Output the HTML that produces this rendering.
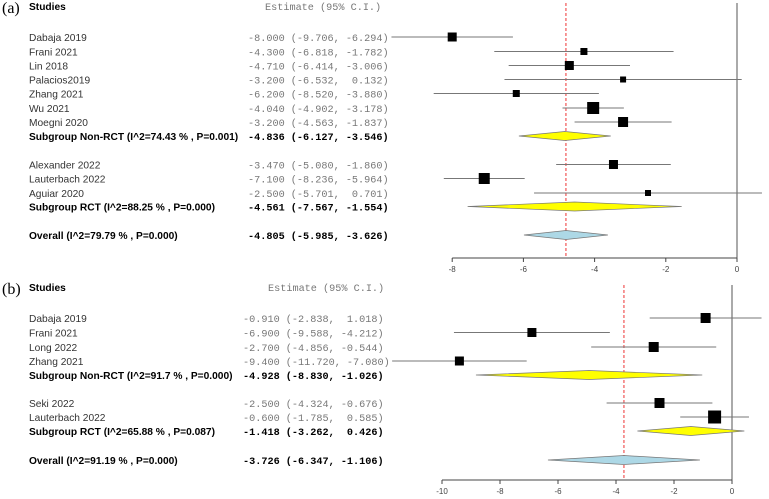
<!DOCTYPE html>
<html><head><meta charset="utf-8"><style>
body{margin:0;background:#fff;}
svg{display:block;}
.nm{font:10.2px "Liberation Sans",sans-serif;fill:#333;}
.b{font-weight:bold;fill:#000;}
.es{font:10.2px "Liberation Mono",monospace;fill:#777;white-space:pre;}
.esb{font:bold 10.2px "Liberation Mono",monospace;fill:#000;white-space:pre;}
.tk{font:8px "Liberation Sans",sans-serif;fill:#444;}
.pl{font:16px "Liberation Serif",serif;fill:#000;}
</style></head><body>
<svg id="c" width="769" height="499"></svg>
<script>
// Panel (a)
const aNames=["Dabaja 2019","Frani 2021","Lin 2018","Palacios2019","Zhang 2021","Wu 2021","Moegni 2020","Alexander 2022","Lauterbach 2022","Aguiar 2020"];
const aEst=[-8.0,-4.3,-4.71,-3.2,-6.2,-4.04,-3.2,-3.47,-7.1,-2.5];
const aLo=[-9.706,-6.818,-6.414,-6.532,-8.52,-4.902,-4.563,-5.08,-8.236,-5.701];
const aHi=[-6.294,-1.782,-3.006,0.132,-3.88,-3.178,-1.837,-1.86,-5.964,0.701];
const aWeight=[9,7,9,6,7,12,10,9,11,6];
const aSumNames=["Subgroup Non-RCT (I^2=74.43 % , P=0.001)","Subgroup RCT (I^2=88.25 % , P=0.000)","Overall (I^2=79.79 % , P=0.000)"];
const aSumEst=[-4.836,-4.561,-4.805];
const aSumLo=[-6.127,-7.567,-5.985];
const aSumHi=[-3.546,-1.554,-3.626];
const aTicks=[-8,-6,-4,-2,0];
// Panel (b)
const bNames=["Dabaja 2019","Frani 2021","Long 2022","Zhang 2021","Seki 2022","Lauterbach 2022"];
const bEst=[-0.91,-6.9,-2.7,-9.4,-2.5,-0.6];
const bLo=[-2.838,-9.588,-4.856,-11.72,-4.324,-1.785];
const bHi=[1.018,-4.212,-0.544,-7.08,-0.676,0.585];
const bWeight=[10,9,10,9,10,13];
const bSumNames=["Subgroup Non-RCT (I^2=91.7 % , P=0.000)","Subgroup RCT (I^2=65.88 % , P=0.087)","Overall (I^2=91.19 % , P=0.000)"];
const bSumEst=[-4.928,-1.418,-3.726];
const bSumLo=[-8.83,-3.262,-6.347];
const bSumHi=[-1.026,0.426,-1.106];
const bTicks=[-10,-8,-6,-4,-2,0];

const svg=document.getElementById('c');
const NS='http://www.w3.org/2000/svg';
function mk(tag,at,txt){const e=document.createElementNS(NS,tag);for(const k in at)e.setAttribute(k,at[k]);if(txt!==undefined)e.textContent=txt;svg.appendChild(e);return e;}
function f(v){const s=v.toFixed(3);return v>=0?' '+s:s;}

function panel(p){
  const X=v=>p.zero+v*p.scale;
  let e;
  e=mk('text',{x:2,y:p.top+8,class:'pl'},p.label);
  
  
  e=mk('text',{x:29,y:p.top+5,class:'nm b'},'Studies');
  
  
  e=mk('text',{x:p.hx,y:p.top+5,class:'es'},'Estimate (95% C.I.)');
  
  
  e=mk('line',{x1:X(0),x2:X(0),y1:p.zTop,y2:p.axisY,stroke:'#555','stroke-width':1});
  
  
  e=mk('line',{x1:X(p.ticks[0]),x2:X(p.ticks[p.ticks.length-1]),y1:p.axisY,y2:p.axisY,stroke:'#444','stroke-width':1});
  
  
  p.ticks.forEach(t=>{
    let l=mk('line',{x1:X(t),x2:X(t),y1:p.axisY,y2:p.axisY+4,stroke:'#444'});
    
    
    let tx=mk('text',{x:X(t),y:p.axisY+14,class:'tk','text-anchor':'middle'},String(t));
    
    
  });
  const ov=p.sEst[2];
  e=mk('line',{x1:X(ov),x2:X(ov),y1:p.zTop,y2:p.axisY,stroke:'#e33','stroke-width':1,'stroke-dasharray':'3,2'});
  
  
  p.names.forEach((n,i)=>{
    const y=p.rowY[i];
    let t=mk('text',{x:29,y:y+4,class:'nm'},n);
    
    
    t=mk('text',{x:p.ex,y:y+4,class:'es'},f(p.est[i])+' ('+f(p.lo[i])+', '+f(p.hi[i])+')');
    
    
    let l=mk('line',{x1:X(p.lo[i]),x2:X(p.hi[i]),y1:y,y2:y,stroke:'#777','stroke-width':1});
    
    
    const s=p.w[i];
    let r=mk('rect',{x:X(p.est[i])-s/2,y:y-s/2,width:s,height:s,fill:'#000'});
    
    
  });
  p.sNames.forEach((n,i)=>{
    const y=p.sY[i];
    let t=mk('text',{x:29,y:y+4,class:'nm b'},n);
    
    
    t=mk('text',{x:p.ex,y:y+4,class:'esb'},f(p.sEst[i])+' ('+f(p.sLo[i])+', '+f(p.sHi[i])+')');
    
    
    const h=4.5;
    let d=mk('polygon',{points:`${X(p.sLo[i])},${y} ${X(p.sEst[i])},${y-h} ${X(p.sHi[i])},${y} ${X(p.sEst[i])},${y+h}`,fill:i==2?'#add8e6':'#ffff00',stroke:'#777','stroke-width':0.7});
    
    
  });
}
panel({label:'(a)',top:5,hx:265,ex:248,zero:737,scale:35.6,axisY:258,zTop:3,ticks:aTicks,
 names:aNames,est:aEst,lo:aLo,hi:aHi,w:aWeight,rowY:[37,51.5,65.5,79.5,93.5,108,122,164.5,178.5,193],
 sNames:aSumNames,sEst:aSumEst,sLo:aSumLo,sHi:aSumHi,sY:[136,206.5,235]});
panel({label:'(b)',top:286,hx:268,ex:243,zero:732,scale:29,axisY:480,zTop:285,ticks:bTicks,
 names:bNames,est:bEst,lo:bLo,hi:bHi,w:bWeight,rowY:[318,332.5,347,361,403,417],
 sNames:bSumNames,sEst:bSumEst,sLo:bSumLo,sHi:bSumHi,sY:[375,431,460]});
</script>
</body></html>
